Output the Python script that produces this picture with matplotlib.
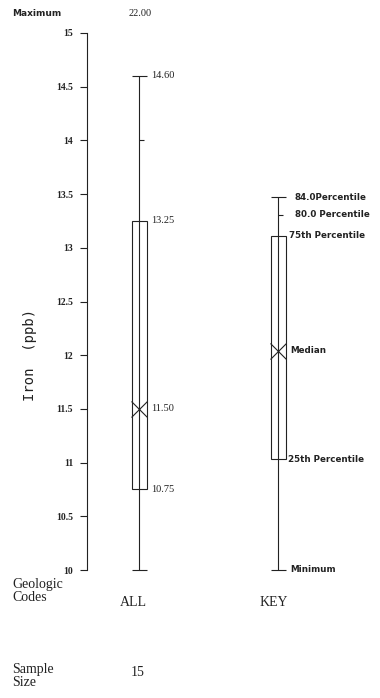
#!/usr/bin/env python3
# -*- coding: utf-8 -*-
"""
box plot of iron (ppb), all samples, with a percentile key
"""
import matplotlib
matplotlib.use("Agg")
import matplotlib.pyplot as plt

# data for the single group
groups      = ['ALL']
sample_size = [15]
maximum     = [22.00]
p84         = [14.60]
p80         = [14.00]
q75         = [13.25]
median      = [11.50]
q25         = [10.75]
minimum     = [10.00]

# key box (drawn in the same y units)
key_levels = [13.47, 13.31, 13.11, 12.04, 11.03, 10.00]
key_labels = ['84.0Percentile', '80.0 Percentile', '75th Percentile',
              'Median', '25th Percentile', 'Minimum']

yticks = [10, 10.5, 11, 11.5, 12, 12.5, 13, 13.5, 14, 14.5, 15]
ytick_labels = ['10', '10.5', '11', '11.5', '12', '12.5', '13', '13.5', '14', '14.5', '15']

W, H = 380, 698
fig = plt.figure(figsize=(W / 100, H / 100), dpi=100)

def px(x, y):
    return x / W, 1 - y / H

ax_l, ax_t, ax_r, ax_b = 87, 33, 380, 570
ax = fig.add_axes([ax_l / W, 1 - ax_b / H, (ax_r - ax_l) / W, (ax_b - ax_t) / H])

x_all, x_key = 1.0, 2.0
unit = 139.0  # px per x unit
ax.set_xlim(x_all - (139 - ax_l) / unit, x_all + (ax_r - 139) / unit)
ax.set_ylim(10, 15)

bw = 15 / unit
lw = 0.8
ink = '#222222'

def draw_box(x, lo, b25, med, b75, hi, mid=None):
    ax.bar(x, b75 - b25, bottom=b25, width=bw, fill=False, edgecolor=ink, linewidth=lw)
    ax.vlines(x, lo, hi, color=ink, linewidth=lw, clip_on=False)
    ax.hlines([lo, hi], x - bw / 2, x + bw / 2, color=ink, linewidth=lw, clip_on=False)
    if mid is not None:
        ax.hlines(mid, x, x + bw * 0.35, color=ink, linewidth=lw)
    ax.plot([x], [med], marker='x', color=ink, markersize=11, mew=0.8)

# ALL group
for i, g in enumerate(groups):
    draw_box(x_all, minimum[i], q25[i], median[i], q75[i], p84[i], p80[i])
    for v in [p84[i], q75[i], median[i], q25[i]]:
        ax.text(x_all + bw / 2 + 0.03, v, '%.2f' % v, fontsize=7.5,
                family='Liberation Serif', va='center', ha='left', color=ink)

# KEY box
draw_box(x_key, key_levels[5], key_levels[4], key_levels[3], key_levels[2],
         key_levels[0], key_levels[1])
key_dx = [0.12, 0.12, 0.08, 0.09, 0.07, 0.09]
for v, lab, dx in zip(key_levels, key_labels, key_dx):
    ax.text(x_key + dx, v, lab, fontsize=6.3, family='DejaVu Sans',
            weight='bold', va='center', ha='left', color=ink)

for s in ['top', 'right', 'bottom']:
    ax.spines[s].set_visible(False)
ax.spines['left'].set_linewidth(lw)
ax.spines['left'].set_color(ink)
ax.set_xticks([])
ax.set_yticks(yticks)
ax.set_yticklabels(ytick_labels, family='Liberation Serif', fontsize=7, weight='bold')
ax.tick_params(axis='y', length=5, width=lw, pad=5, colors=ink)

ax.text(x_all - (139 - 30) / unit, 12.0, 'Iron  (ppb)', rotation=90, fontsize=10,
        family='DejaVu Sans Mono', va='center', ha='center', color=ink,
        transform=ax.transData)

# header / footer labels
fig.text(*px(12, 13), 'Maximum', fontsize=6.5, weight='bold', family='DejaVu Sans',
         va='center', ha='left', color=ink)
fig.text(*px(140, 13), '%.2f' % maximum[0], fontsize=7.5, family='Liberation Serif',
         va='center', ha='center', color=ink)
fig.text(*px(12, 591), 'Geologic\nCodes', fontsize=10, family='Liberation Serif',
         va='center', ha='left', linespacing=1.05, color=ink)
fig.text(*px(133, 603), groups[0], fontsize=10, family='Liberation Serif',
         va='center', ha='center', color=ink)
fig.text(*px(274, 603), 'KEY', fontsize=10, family='Liberation Serif',
         va='center', ha='center', color=ink)
fig.text(*px(12, 676), 'Sample\nSize', fontsize=10, family='Liberation Serif',
         va='center', ha='left', linespacing=1.05, color=ink)
fig.text(*px(138, 673), str(sample_size[0]), fontsize=10, family='Liberation Serif',
         va='center', ha='center', color=ink)

plt.savefig('out.png', dpi=100)
